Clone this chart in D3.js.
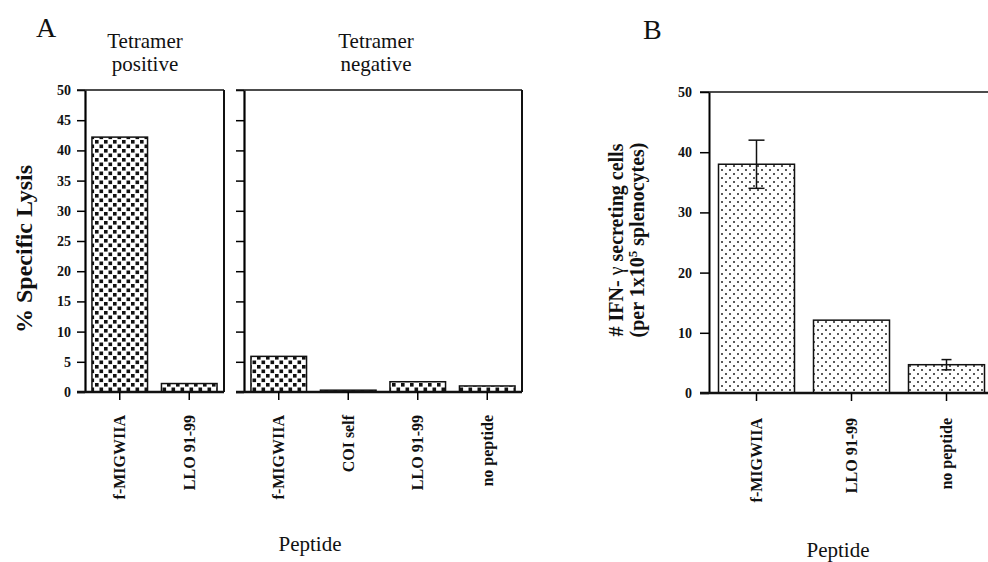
<!DOCTYPE html>
<html>
<head>
<meta charset="utf-8">
<script src="https://cdn.jsdelivr.net/npm/d3@7"></script>
<style>
  body { margin:0; background:#fff; }
  svg, text { font-family: "Liberation Serif", "Times New Roman", Times, "DejaVu Serif", serif; fill:#111; }
  .tick text { font-weight:bold; font-size:14px; }
</style>
</head>
<body>
<div id="chart"></div>
<script>
// values
var posCats = ["f-MIGWIIA", "LLO 91-99"];
var posVals = [42.2, 1.4];
var negCats = ["f-MIGWIIA", "COI self", "LLO 91-99", "no peptide"];
var negVals = [5.9, 0.3, 1.7, 1.0];
var ifnCats = ["f-MIGWIIA", "LLO 91-99", "no peptide"];
var ifnVals = [38, 12.1, 4.7];
var ifnErr = [4, 0, 0.85];
var lysisTicks = [0, 5, 10, 15, 20, 25, 30, 35, 40, 45, 50];
var ifnTicks = [0, 10, 20, 30, 40, 50];

var W = 988, H = 562;

var svg = d3.select("#chart").append("svg")
    .attr("width", W).attr("height", H)
    .attr("font-family", "Liberation Serif, serif");

var defs = svg.append("defs");

// coarse checker pattern (panel A)
var pA = defs.append("pattern").attr("id", "patA")
    .attr("patternUnits", "userSpaceOnUse")
    .attr("width", 9).attr("height", 9);
pA.append("rect").attr("width", 9).attr("height", 9).attr("fill", "#fff");
pA.append("rect").attr("x", 0.5).attr("y", 0.5).attr("width", 3.6).attr("height", 3.6).attr("fill", "#111");
pA.append("rect").attr("x", 5).attr("y", 5).attr("width", 3.6).attr("height", 3.6).attr("fill", "#111");

// sparse dot pattern (panel B)
var pB = defs.append("pattern").attr("id", "patB")
    .attr("patternUnits", "userSpaceOnUse")
    .attr("width", 8).attr("height", 8);
pB.append("rect").attr("width", 8).attr("height", 8).attr("fill", "#fff");
pB.append("circle").attr("cx", 2).attr("cy", 2).attr("r", 1).attr("fill", "#222");
pB.append("circle").attr("cx", 6).attr("cy", 6).attr("r", 1).attr("fill", "#222");

// ---------- Panel A
var yA = d3.scaleLinear().domain([0, 50]).range([392, 90]);

function lysisPanel(cats, vals, x0, x1, withLabels, title, titleX) {
    var x = d3.scaleBand().domain(cats).range([x0, x1])
        .paddingInner(0.2).paddingOuter(0.1);
    var g = svg.append("g");

    g.selectAll("rect.bar")
        .data(vals)
        .enter()
        .append("rect")
        .attr("class", "bar")
        .attr("x", function(d, i) { return x(cats[i]); })
        .attr("y", function(d) { return yA(d); })
        .attr("width", x.bandwidth())
        .attr("height", function(d) { return yA(0) - yA(d); })
        .attr("fill", "url(#patA)")
        .attr("stroke", "#111")
        .attr("stroke-width", 1.5);

    var yAxis = d3.axisLeft(yA).tickValues(lysisTicks)
        .tickSize(8).tickSizeOuter(0).tickPadding(6);
    if (!withLabels) yAxis.tickFormat("");
    var ya = g.append("g").attr("transform", "translate(" + x0 + ",0)").call(yAxis);
    ya.select(".domain").attr("stroke-width", 2.2);
    ya.selectAll(".tick line").attr("stroke-width", 1.5);

    // frame: top and right
    g.append("line").attr("x1", x0 - 8).attr("x2", x1).attr("y1", yA(50)).attr("y2", yA(50))
        .attr("stroke", "#111").attr("stroke-width", 1.5);
    g.append("line").attr("x1", x1).attr("x2", x1).attr("y1", yA(50)).attr("y2", yA(0))
        .attr("stroke", "#111").attr("stroke-width", 2);
    // bottom line
    g.append("line").attr("x1", x0 - 8).attr("x2", x1).attr("y1", yA(0)).attr("y2", yA(0))
        .attr("stroke", "#111").attr("stroke-width", 2.5);

    var xa = g.append("g").attr("transform", "translate(0," + yA(0) + ")")
        .call(d3.axisBottom(x).tickSize(8).tickSizeOuter(0));
    xa.select(".domain").remove();
    xa.selectAll(".tick line").attr("stroke-width", 1.5);
    xa.selectAll(".tick text")
        .attr("transform", "rotate(-90)")
        .attr("text-anchor", "end")
        .attr("x", -23).attr("y", 0).attr("dy", "0.35em")
        .style("font-size", "16px");

    var t = g.append("text").attr("x", titleX).attr("y", 48)
        .attr("text-anchor", "middle").style("font-size", "21px");
    t.append("tspan").attr("x", titleX).text(title[0]);
    t.append("tspan").attr("x", titleX).attr("dy", 23).text(title[1]);
}

lysisPanel(posCats, posVals, 85, 224, true, ["Tetramer", "positive"], 145);
lysisPanel(negCats, negVals, 244, 522, false, ["Tetramer", "negative"], 376);

svg.append("text").attr("x", 36).attr("y", 37).style("font-size", "28px").text("A");

svg.append("text")
    .attr("transform", "translate(24,249) rotate(-90)")
    .attr("text-anchor", "middle").attr("dy", "0.35em")
    .style("font-size", "24px").style("font-weight", "bold")
    .text("% Specific Lysis");

svg.append("text").attr("x", 310).attr("y", 551)
    .attr("text-anchor", "middle").style("font-size", "21px").text("Peptide");

// ---------- Panel B
var yB = d3.scaleLinear().domain([0, 50]).range([393, 92]);
var xB = d3.scaleBand().domain(ifnCats).range([709, 994])
    .paddingInner(0.2).paddingOuter(0.1);
var gB = svg.append("g");

gB.append("line").attr("x1", 700).attr("x2", W).attr("y1", yB(50)).attr("y2", yB(50))
    .attr("stroke", "#111").attr("stroke-width", 1.5);

gB.selectAll("rect.bar")
    .data(ifnVals)
    .enter()
    .append("rect")
    .attr("class", "bar")
    .attr("x", function(d, i) { return xB(ifnCats[i]); })
    .attr("y", function(d) { return yB(d); })
    .attr("width", xB.bandwidth())
    .attr("height", function(d) { return yB(0) - yB(d); })
    .attr("fill", "url(#patB)")
    .attr("stroke", "#111")
    .attr("stroke-width", 1.5);

// error bars
ifnVals.forEach(function(v, i) {
    if (!ifnErr[i]) return;
    var cx = xB(ifnCats[i]) + xB.bandwidth() / 2;
    var capW = ifnErr[i] > 2 ? 8 : 5;
    gB.append("line").attr("x1", cx).attr("x2", cx)
        .attr("y1", yB(v - ifnErr[i])).attr("y2", yB(v + ifnErr[i]))
        .attr("stroke", "#111").attr("stroke-width", 1.5);
    [v - ifnErr[i], v + ifnErr[i]].forEach(function(e) {
        gB.append("line").attr("x1", cx - capW).attr("x2", cx + capW)
            .attr("y1", yB(e)).attr("y2", yB(e))
            .attr("stroke", "#111").attr("stroke-width", 1.5);
    });
});

var yaB = gB.append("g").attr("transform", "translate(709,0)")
    .call(d3.axisLeft(yB).tickValues(ifnTicks).tickSize(9).tickSizeOuter(0).tickPadding(8));
yaB.select(".domain").attr("stroke-width", 2);
yaB.selectAll(".tick line").attr("stroke-width", 1.5);

gB.append("line").attr("x1", 700).attr("x2", W).attr("y1", yB(0)).attr("y2", yB(0))
    .attr("stroke", "#111").attr("stroke-width", 2.5);

var xaB = gB.append("g").attr("transform", "translate(0," + yB(0) + ")")
    .call(d3.axisBottom(xB).tickSize(8).tickSizeOuter(0));
xaB.select(".domain").remove();
xaB.selectAll(".tick line").attr("stroke-width", 1.5);
xaB.selectAll(".tick text")
    .attr("transform", "rotate(-90)")
    .attr("text-anchor", "end")
    .attr("x", -25).attr("y", 0).attr("dy", "0.35em")
    .style("font-size", "16px");

svg.append("text").attr("x", 643).attr("y", 39).style("font-size", "28px").text("B");

var lab1 = svg.append("text")
    .attr("transform", "translate(616,240) rotate(-90)")
    .attr("text-anchor", "middle").attr("dy", "0.35em")
    .style("font-size", "20px").style("font-weight", "bold");
lab1.append("tspan").text("# IFN- ");
lab1.append("tspan").style("font-weight", "normal").text("γ");
lab1.append("tspan").text(" secreting cells");

var lab2 = svg.append("text")
    .attr("transform", "translate(637,240) rotate(-90)")
    .attr("text-anchor", "middle").attr("dy", "0.35em")
    .style("font-size", "20px").style("font-weight", "bold");
lab2.append("tspan").text("(per 1x10");
lab2.append("tspan").attr("dy", -7).style("font-size", "13px").text("5");
lab2.append("tspan").attr("dy", 7).text(" splenocytes)");

svg.append("text").attr("x", 838).attr("y", 557)
    .attr("text-anchor", "middle").style("font-size", "21px").text("Peptide");
</script>
</body>
</html>
